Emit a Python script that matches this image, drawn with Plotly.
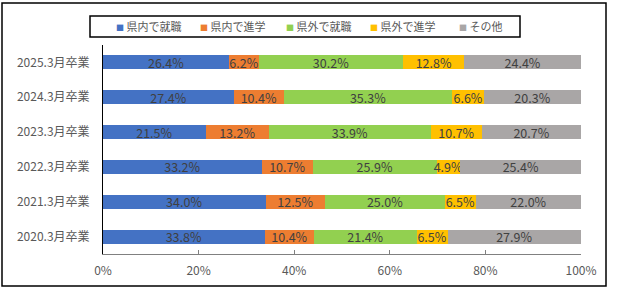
import plotly.graph_objects as go

categories = ["2025.3月卒業", "2024.3月卒業", "2023.3月卒業", "2022.3月卒業", "2021.3月卒業", "2020.3月卒業"]
series_names = ["県内で就職", "県内で進学", "県外で就職", "県外で進学", "その他"]
kennai_shushoku = [26.4, 27.4, 21.5, 33.2, 34.0, 33.8]
kennai_shingaku = [6.2, 10.4, 13.2, 10.7, 12.5, 10.4]
kengai_shushoku = [30.2, 35.3, 33.9, 25.9, 25.0, 21.4]
kengai_shingaku = [12.8, 6.6, 10.7, 4.9, 6.5, 6.5]
sonota = [24.4, 20.3, 20.7, 25.4, 22.0, 27.9]
x_ticks = [0, 20, 40, 60, 80, 100]
x_tick_labels = ["0%", "20%", "40%", "60%", "80%", "100%"]

colors = ["#4472C4", "#ED7D31", "#92D050", "#FFC000", "#A9A6A6"]
values = [kennai_shushoku, kennai_shingaku, kengai_shushoku, kengai_shingaku, sonota]

FONT = "Noto Sans CJK JP"
fig = go.Figure()
for name, vals, col in zip(series_names, values, colors):
    fig.add_trace(go.Bar(
        y=categories, x=vals, name=name, orientation="h",
        marker=dict(color=col, line=dict(width=0)),
        width=0.4,
        text=[f"{v:.1f}%" for v in vals],
        textposition="inside", insidetextanchor="middle", textangle=0,
        constraintext="none",
        textfont=dict(family=FONT, size=12.5, color="#404040"),
        hoverinfo="skip", showlegend=False,
    ))

W, H = 618, 291
l, r, t, b = 103, 37, 45, 37
pw, ph = W - l - r, H - t - b

def px(x):
    return (x - l) / pw

def py(y):
    return (H - b - y) / ph

# legend drawn as coloured square + name, inside a framed box
legend_x = [114, 198, 284, 368, 457]
annotations = []
for name, col, lx in zip(series_names, colors, legend_x):
    annotations.append(dict(
        xref="paper", yref="paper", x=px(lx), y=py(26.5),
        xanchor="left", yanchor="middle", showarrow=False,
        text=f"<span style='color:{col};font-size:8px'>■</span> {name}",
        font=dict(family=FONT, size=11, color="#595959"),
    ))

fig.update_layout(
    barmode="stack",
    width=W, height=H,
    margin=dict(l=l, r=r, t=t, b=b, pad=0),
    paper_bgcolor="white", plot_bgcolor="white",
    font=dict(family=FONT, size=11, color="#595959"),
    uniformtext=dict(minsize=12, mode="show"),
    showlegend=False,
    annotations=annotations,
    xaxis=dict(
        range=[0, 100], tickvals=x_ticks, ticktext=x_tick_labels,
        showgrid=False, zeroline=False,
        showline=True, linecolor="#808080", linewidth=1,
        ticks="inside", ticklen=4, tickcolor="#808080",
        ticklabelstandoff=6,
        tickfont=dict(family=FONT, size=12, color="#595959"),
        fixedrange=True,
    ),
    yaxis=dict(
        autorange="reversed", showgrid=False, zeroline=False,
        showline=True, linecolor="black", linewidth=1,
        ticks="", ticklabelstandoff=10,
        tickfont=dict(family=FONT, size=12, color="#595959"),
        fixedrange=True,
    ),
    shapes=[
        dict(type="rect", xref="paper", yref="paper",
             x0=px(2), x1=px(606), y0=py(286), y1=py(3),
             line=dict(color="black", width=1.5), fillcolor="rgba(0,0,0,0)"),
        dict(type="rect", xref="paper", yref="paper",
             x0=px(90), x1=px(520), y0=py(37), y1=py(16),
             line=dict(color="black", width=1.5), fillcolor="rgba(0,0,0,0)"),
    ],
)

fig.write_html("out.html")
